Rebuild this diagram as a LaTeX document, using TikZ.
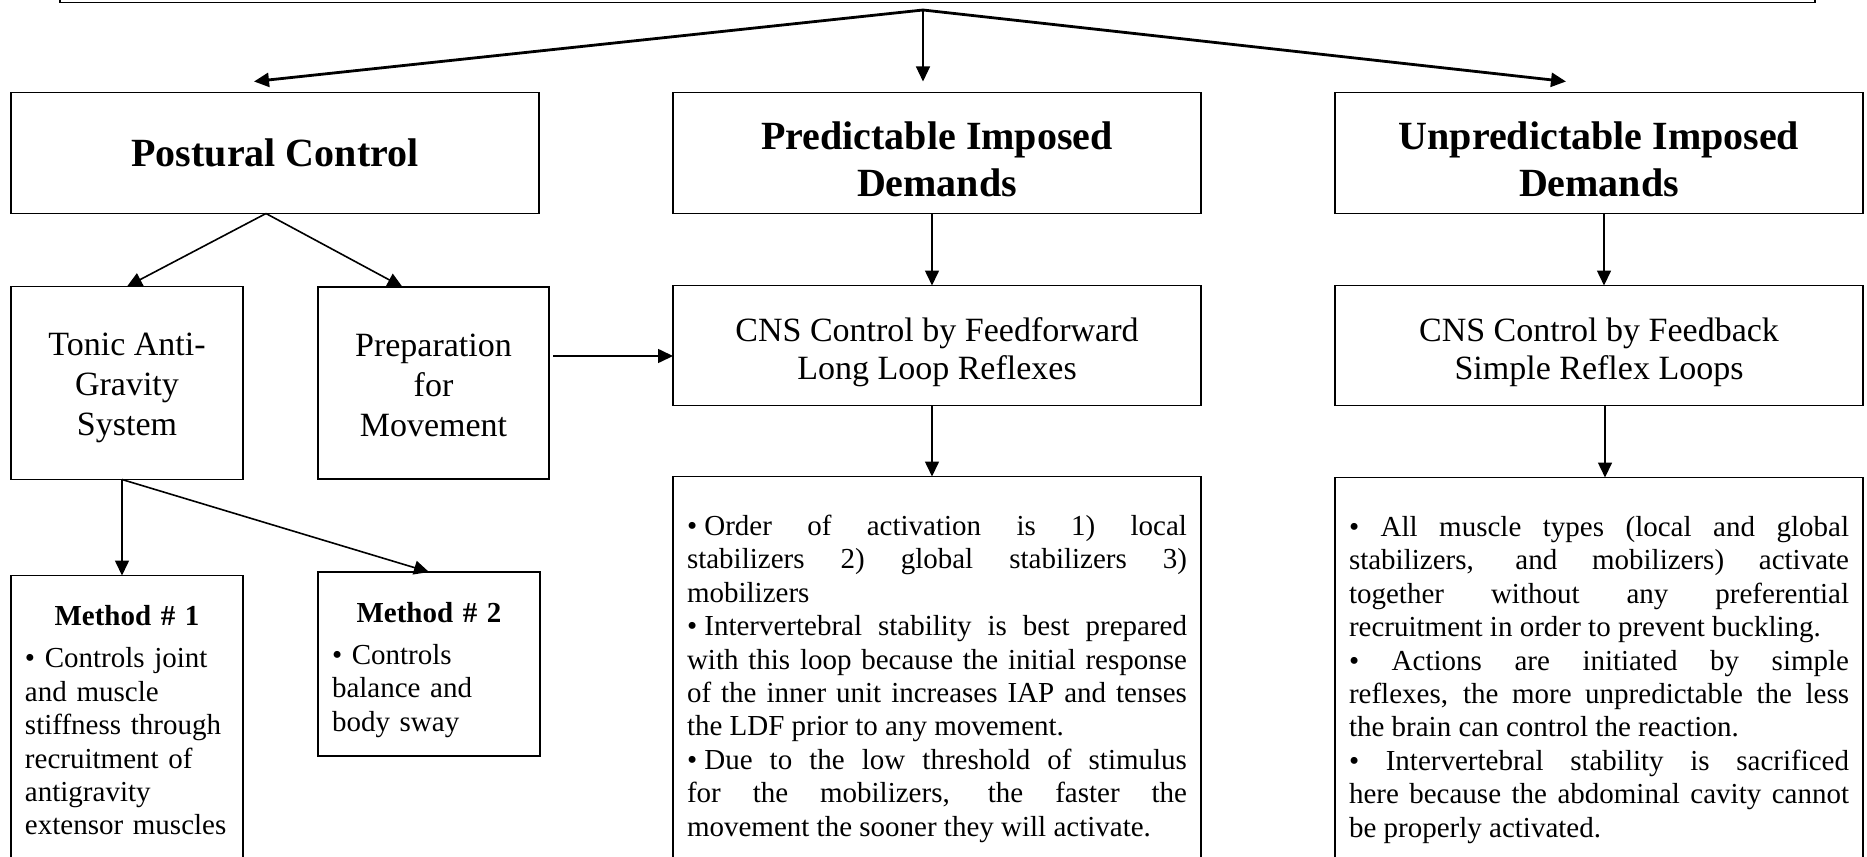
\documentclass[tikz,border=0pt]{standalone}
\usepackage{fontspec}
\setmainfont{Liberation Serif}
\usetikzlibrary{arrows.meta,positioning}

\begin{document}
\begin{tikzpicture}[x=0.5pt,y=-0.5pt,>={Triangle[length=7.5pt,width=7pt]},node distance=36pt]
  \tikzstyle{box}=[draw,line width=0.9pt,inner sep=0pt,outer sep=0pt,align=center]
  \tikzstyle{headbox}=[box,minimum width=264pt,minimum height=60.5pt,text height=52pt,text depth=8.5pt,font=\fontsize{20}{23.5}\selectfont\bfseries]
  \tikzstyle{midbox}=[box,font=\fontsize{17}{20}\selectfont]
  \tikzstyle{notebox}=[box,inner xsep=7pt,align=justify,font=\fontsize{14.5}{16.7}\selectfont]
  \tikzstyle{link}=[line width=0.8pt,->]
  \tikzstyle{fanlink}=[line width=1.4pt,->]
  \useasboundingbox (0,0) rectangle (1867,856);
  % top row
  \node[box,minimum width=877.5pt,minimum height=40pt,anchor=south west] (root) at (60,2.5) {};
  \node[headbox,text height=37pt,text depth=23.5pt] (postural) at (275,153) {Postural Control};
  \node[headbox,right=67pt of postural] (pred) {Predictable Imposed\\Demands};
  \node[headbox,right=67pt of pred] (unpred) {Unpredictable Imposed\\Demands};
  % second row
  \node[midbox,minimum width=116pt,minimum height=96.5pt,text height=74.5pt,text depth=22pt,below=36.5pt of postural.south west,anchor=north west] (tonic) {Tonic Anti-\\Gravity\\System};
  \node[midbox,minimum width=115.5pt,minimum height=96pt,text height=74.5pt,text depth=21.5pt,right=37.5pt of tonic] (prep) {Preparation\\for\\Movement};
  \node[midbox,minimum width=264pt,minimum height=60pt,text height=46.8pt,text depth=13.2pt,font=\fontsize{17}{19}\selectfont,below=of pred] (ff) {CNS Control by Feedforward\\Long Loop Reflexes};
  \node[midbox,minimum width=264pt,minimum height=60pt,text height=46.8pt,text depth=13.2pt,font=\fontsize{17}{19}\selectfont,below=of unpred] (fb) {CNS Control by Feedback\\Simple Reflex Loops};
  % bottom row
  \node[notebox,align=left,text width=102pt,text height=25pt,text depth=200pt,below=48pt of tonic.south west,anchor=north west] (method1)
    {{\centering\bfseries Method \# 1\par}\vspace{4.5pt}• Controls joint\\and muscle\\stiffness through\\recruitment of\\antigravity\\extensor muscles};
  \node[notebox,align=left,text width=97pt,text height=25pt,text depth=67pt,below=46.5pt of prep.south west,anchor=north west] (method2)
    {{\centering\bfseries Method \# 2\par}\vspace{4.5pt}• Controls\\balance and\\body sway};
  \node[notebox,text width=250pt,text height=29.5pt,text depth=200pt,below=35.5pt of ff] (ffnote)
    {•\hspace{3.6pt}Order of activation is 1) local\linebreak stabilizers 2) global stabilizers 3)\linebreak mobilizers\par
     •\hspace{3.6pt}Intervertebral stability is best prepared\linebreak with this loop because the initial response\linebreak of the inner unit increases IAP and tenses\linebreak the LDF prior to any movement.\par
     •\hspace{3.6pt}Due to the low threshold of stimulus\linebreak for the mobilizers, the faster the\linebreak movement the sooner they will activate.};
  \node[notebox,text width=250pt,text height=29.5pt,text depth=200pt,below=36pt of fb] (fbnote)
    {• All muscle types (local and global\linebreak stabilizers, and mobilizers) activate\linebreak together without any preferential\linebreak recruitment in order to prevent buckling.\par
     • Actions are initiated by simple\linebreak reflexes, the more unpredictable the less\linebreak the brain can control the reaction.\par
     • Intervertebral stability is sacrificed\linebreak here because the abdominal cavity cannot\linebreak be properly activated.};
  % connectors
  \coordinate (fork) at (923,10);
  \coordinate (lnk) at (0,356);
  \draw[fanlink] (fork) -- ([xshift=-10.5pt,yshift=5.5pt]postural.north);
  \draw[link,line width=0.6pt,shorten >=5.5pt] (fork) -- (fork |- pred.north);
  \draw[fanlink] (fork) -- ([xshift=-16.5pt,yshift=5.5pt]unpred.north);
  \draw[link] ([xshift=-4.5pt]postural.south) -- (tonic.north);
  \draw[link] ([xshift=-4.5pt]postural.south) -- ([xshift=-15.5pt]prep.north);
  \draw[link] ([xshift=-2.5pt]tonic.south) -- ([xshift=-2.5pt]method1.north);
  \draw[link] ([xshift=-2.5pt]tonic.south) -- (method2.north);
  \draw[link,shorten <=2pt] (prep.east |- lnk) -- (ff.west |- lnk);
  \draw[link] ([xshift=-2.5pt]pred.south) -- ([xshift=-2.5pt]ff.north);
  \draw[link] ([xshift=-2.5pt]ff.south) -- ([xshift=-2.5pt]ffnote.north);
  \draw[link] ([xshift=2.5pt]unpred.south) -- ([xshift=2.5pt]fb.north);
  \draw[link] ([xshift=3pt]fb.south) -- ([xshift=3pt]fbnote.north);
\end{tikzpicture}
\end{document}
